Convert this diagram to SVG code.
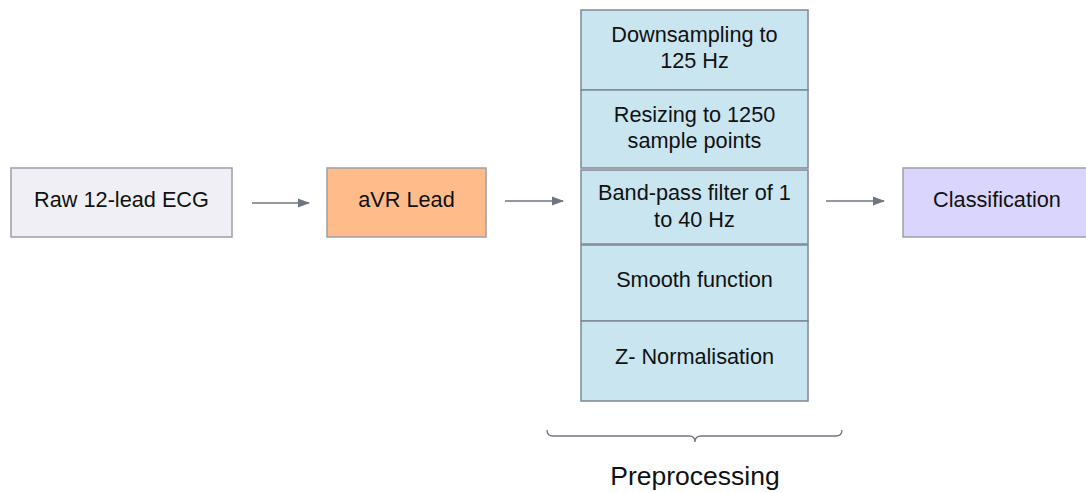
<svg xmlns="http://www.w3.org/2000/svg" width="1086" height="493" viewBox="0 0 1086 493">
<style>
text{font-family:"Liberation Sans",Arial,sans-serif;font-size:21.7px;fill:#111;text-anchor:middle}
.box{stroke:#9ba0a8;stroke-width:1.5}
.pre{fill:#c8e5f0;stroke:#808894;stroke-width:1.5}
.conn{stroke:#6f7682;stroke-width:1.5;fill:none}
</style>
<defs>
<marker id="ah" markerWidth="12" markerHeight="10" refX="11" refY="5" orient="auto" markerUnits="userSpaceOnUse">
<path d="M0,0.5 L12,5 L0,9.5 Z" fill="#6f7682"/>
</marker>
</defs>
<rect width="1086" height="493" fill="#fff"/>
<g id="connectors">
<line class="conn" x1="252" y1="203" x2="309" y2="203" marker-end="url(#ah)"/>
<line class="conn" x1="505" y1="201" x2="563" y2="201" marker-end="url(#ah)"/>
<line class="conn" x1="826" y1="201" x2="884" y2="201" marker-end="url(#ah)"/>
</g>
<g id="raw">
<rect class="box" x="11" y="168" width="221" height="69" fill="#efeff5"/>
<text x="121.5" y="207">Raw 12-lead ECG</text>
</g>
<g id="avr">
<rect class="box" x="327" y="168" width="159" height="69" fill="#ffbc8a"/>
<text x="406.5" y="207">aVR Lead</text>
</g>
<g id="downsampling">
<rect class="pre" x="581" y="10" width="227" height="80"/>
<text x="694.5" y="42">Downsampling to</text>
<text x="694.5" y="68">125 Hz</text>
</g>
<g id="resizing">
<rect class="pre" x="581" y="90" width="227" height="78"/>
<text x="694.5" y="122">Resizing to 1250</text>
<text x="694.5" y="148">sample points</text>
</g>
<g id="bandpass">
<rect class="pre" x="581" y="170" width="227" height="74"/>
<text x="694.5" y="200">Band-pass filter of 1</text>
<text x="694.5" y="227">to 40 Hz</text>
</g>
<g id="smooth">
<rect class="pre" x="581" y="245" width="227" height="76"/>
<text x="694.5" y="287">Smooth function</text>
</g>
<g id="znorm">
<rect class="pre" x="581" y="321" width="227" height="80"/>
<text x="694.5" y="364">Z- Normalisation</text>
</g>
<g id="classification">
<rect class="box" x="903" y="168" width="186" height="69" fill="#d9d5fd"/>
<text x="997" y="207">Classification</text>
</g>
<g id="preprocessing">
<path d="M547,430 Q547,436 553,436 L689,436 Q695,436 695,442 Q695,436 701,436 L836,436 Q842,436 842,430" fill="none" stroke="#6f7682" stroke-width="1.3"/>
<text x="695" y="485" style="font-size:26.5px">Preprocessing</text>
</g>
</svg>
